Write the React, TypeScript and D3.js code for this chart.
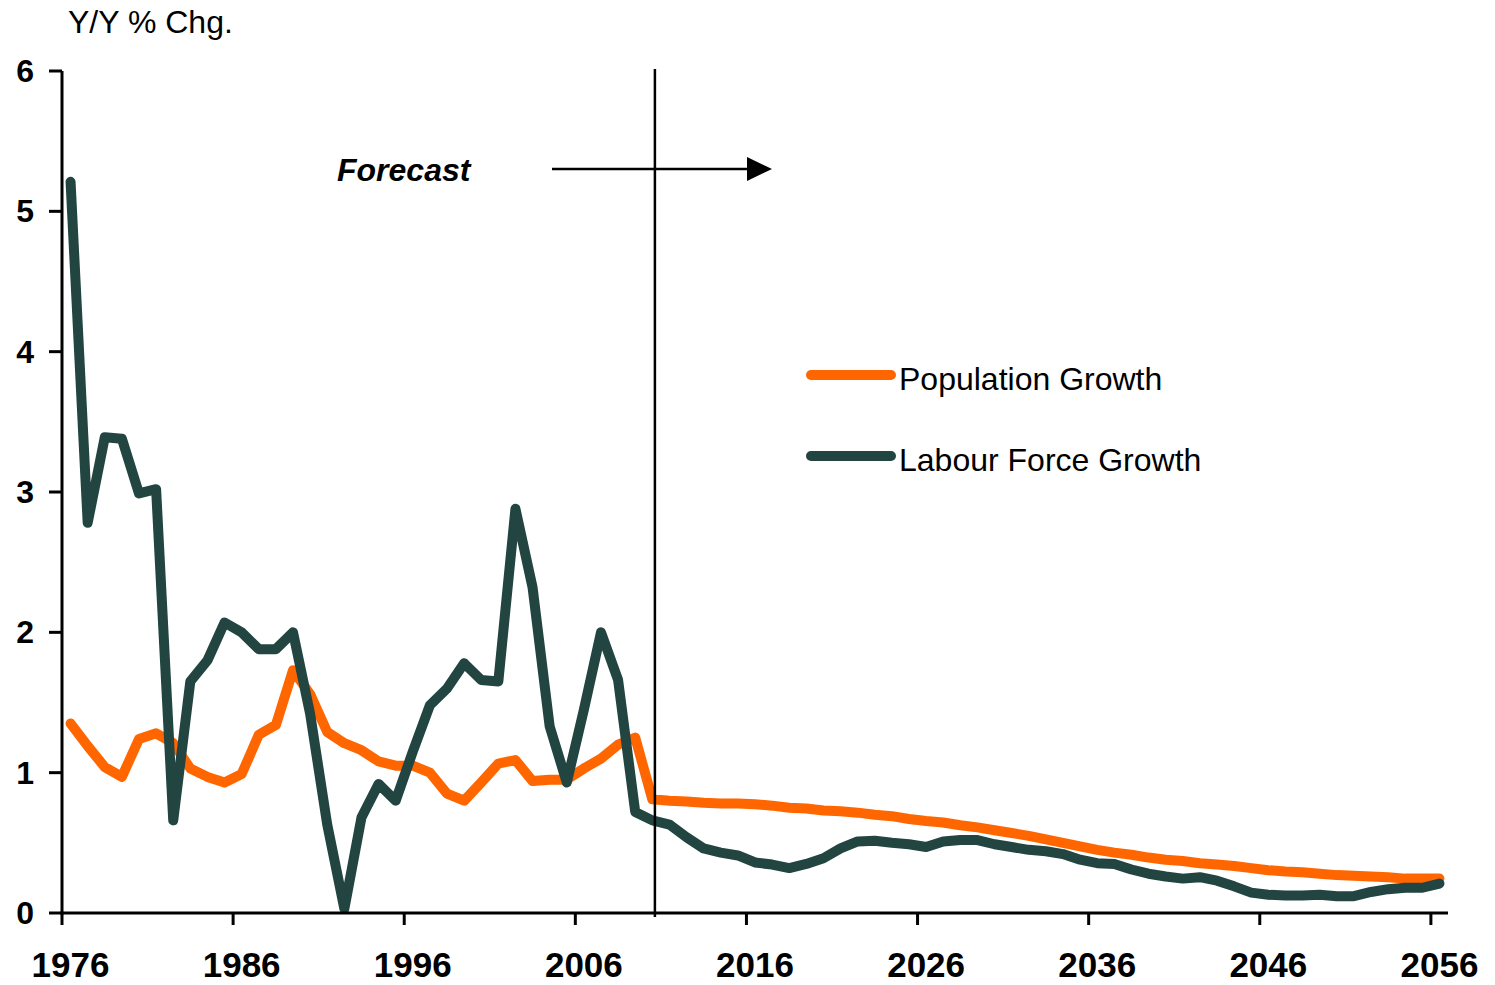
import React from "react";
import * as d3 from "d3";

const years: number[] = d3.range(1976, 2057);

const population: number[] = [
  1.35, 1.19, 1.04, 0.97, 1.24, 1.28, 1.21, 1.03, 0.97, 0.93,
  0.99, 1.27, 1.34, 1.73, 1.56, 1.29, 1.21, 1.16, 1.08, 1.05,
  1.05, 1.0, 0.85, 0.8, 0.93, 1.065, 1.09, 0.94, 0.95, 0.95,
  1.03, 1.1, 1.2, 1.25, 0.81, 0.8, 0.795, 0.785, 0.78, 0.78,
  0.775, 0.765, 0.75, 0.745, 0.73, 0.725, 0.715, 0.7, 0.69, 0.67,
  0.655, 0.645, 0.625, 0.61, 0.59, 0.57, 0.55, 0.525, 0.5, 0.475,
  0.45, 0.43, 0.415, 0.395, 0.38, 0.37, 0.355, 0.345, 0.335, 0.32,
  0.305, 0.295, 0.29, 0.28, 0.27, 0.265, 0.26, 0.255, 0.245, 0.245,
  0.245,
];

const labourForce: number[] = [
  5.21, 2.78, 3.39, 3.38, 2.99, 3.02, 0.66, 1.65, 1.8, 2.07,
  2.0, 1.88, 1.88, 2.0, 1.42, 0.63, 0.03, 0.68, 0.92, 0.8,
  1.15, 1.48, 1.6, 1.78, 1.66, 1.65, 2.88, 2.32, 1.33, 0.93,
  1.45, 2.0, 1.66, 0.72, 0.66, 0.63, 0.54, 0.46, 0.43, 0.41,
  0.36, 0.345, 0.32, 0.35, 0.39, 0.46, 0.51, 0.515, 0.5, 0.49,
  0.47, 0.51, 0.52, 0.52, 0.49, 0.47, 0.45, 0.44, 0.42, 0.38,
  0.355, 0.35, 0.31, 0.28, 0.26, 0.245, 0.255, 0.23, 0.19, 0.145,
  0.13, 0.125, 0.125, 0.13, 0.12, 0.12, 0.15, 0.17, 0.18, 0.18,
  0.21,
];

const yTicks: number[] = [0, 1, 2, 3, 4, 5, 6];
const xTickLabels: number[] = [1976, 1986, 1996, 2006, 2016, 2026, 2036, 2046, 2056];

const seriesNames = ["Population Growth", "Labour Force Growth"];
const seriesColors = ["#FF6600", "#224542"];

const forecastYear = 2010.15;

export default function App() {
  const width = 1495;
  const height = 985;
  const x = d3.scaleLinear().domain([1975.5, 2056.5]).range([62, 1448]);
  const y = d3.scaleLinear().domain([0, 6]).range([913, 71]);

  const line = d3
    .line<number>()
    .x((_, i) => x(years[i]))
    .y((d) => y(d));

  const series = [population, labourForce];
  const font = "Arial, 'Liberation Sans', Helvetica, sans-serif";

  return (
    <svg
      width={width}
      height={height}
      style={{ position: "absolute", left: 0, top: 0, background: "#fff" }}
      fontFamily={font}
    >
      <rect width={width} height={height} fill="#fff" />
      <text x={68} y={33} fontSize={32} fill="#000">
        Y/Y % Chg.
      </text>

      {series.map((s, i) => (
        <path
          key={i}
          d={line(s) || ""}
          fill="none"
          stroke={seriesColors[i]}
          strokeWidth={10}
          strokeLinejoin="round"
          strokeLinecap="round"
        />
      ))}

      <line x1={x(1975.5)} x2={x(1975.5)} y1={y(6)} y2={y(0) + 1.5} stroke="#000" strokeWidth={3} />
      <line x1={x(1975.5) - 1.5} x2={x(2056.5)} y1={y(0)} y2={y(0)} stroke="#000" strokeWidth={3} />
      {yTicks.map((t) => (
        <g key={t}>
          <line x1={49} x2={x(1975.5)} y1={y(t)} y2={y(t)} stroke="#000" strokeWidth={3} />
          <text
            x={34}
            y={y(t)}
            fontSize={32}
            fontWeight="bold"
            textAnchor="end"
            dominantBaseline="central"
          >
            {t}
          </text>
        </g>
      ))}
      {xTickLabels.map((t) => (
        <g key={t}>
          <line x1={x(t - 0.5)} x2={x(t - 0.5)} y1={y(0)} y2={y(0) + 12} stroke="#000" strokeWidth={3} />
          <text x={x(t)} y={977} fontSize={35} fontWeight="bold" textAnchor="middle">
            {t}
          </text>
        </g>
      ))}

      <line x1={x(forecastYear)} x2={x(forecastYear)} y1={69} y2={917} stroke="#000" strokeWidth={2.5} />
      <text x={337} y={181} fontSize={32} fontWeight="bold" fontStyle="italic">
        Forecast
      </text>
      <line x1={552} x2={750} y1={169} y2={169} stroke="#000" strokeWidth={2.5} />
      <path d="M747,157 L772,169 L747,181 Z" fill="#000" />

      {seriesNames.map((n, i) => (
        <g key={n}>
          <line
            x1={811}
            x2={891}
            y1={375 + i * 81}
            y2={375 + i * 81}
            stroke={seriesColors[i]}
            strokeWidth={10}
            strokeLinecap="round"
          />
          <text x={899} y={390 + i * 81} fontSize={32}>
            {n}
          </text>
        </g>
      ))}
    </svg>
  );
}
